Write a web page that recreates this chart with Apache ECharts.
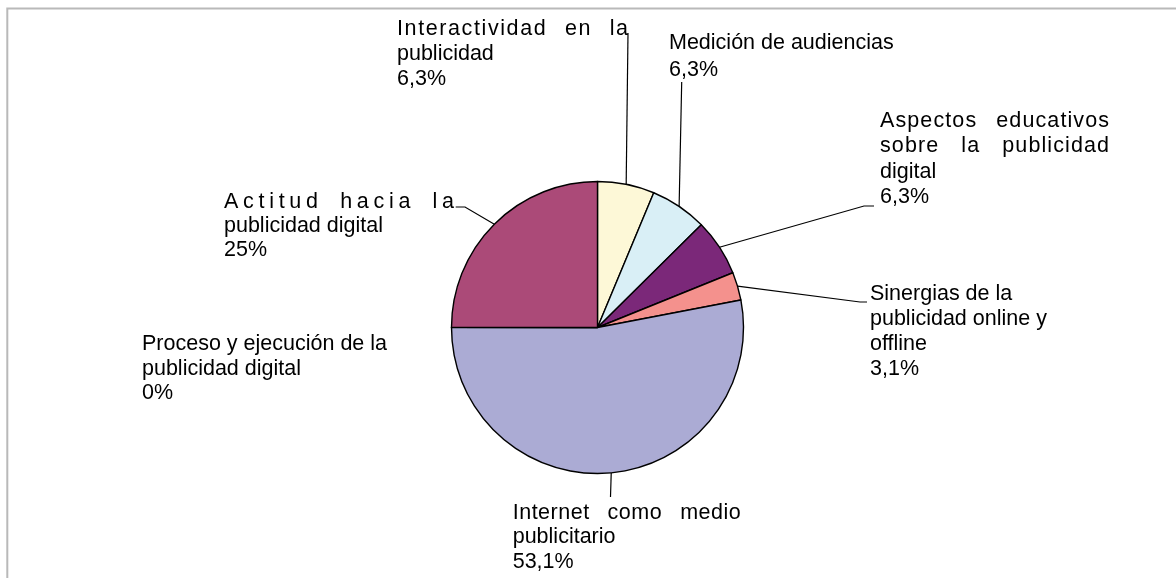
<!DOCTYPE html>
<html>
<head>
<meta charset="utf-8">
<script src="https://cdn.jsdelivr.net/npm/echarts@6/dist/echarts.min.js"></script>
<style>
  html, body { margin: 0; padding: 0; background: #ffffff; }
  #chart { width: 1176px; height: 578px; }
</style>
</head>
<body>
<div id="chart"></div>
<script>
// Topics of the reviewed studies and their share (%)
const categories = [
  'Interactividad en la publicidad',
  'Medición de audiencias',
  'Aspectos educativos sobre la publicidad digital',
  'Sinergias de la publicidad online y offline',
  'Internet como medio publicitario',
  'Proceso y ejecución de la publicidad digital',
  'Actitud hacia la publicidad digital'
];
const values = [6.3, 6.3, 6.3, 3.1, 53.1, 0, 25];
const sliceColors = ['#FDF8D7', '#D9EFF6', '#7B2879', '#F4918D', '#ABABD4', '#B0B0B0', '#AB4A78'];

// Words per line when each category name is wrapped
const wrapWords = [[3, 1], [3], [2, 3, 1], [3, 3, 1], [3, 1], [5, 2], [3, 2]];

const FONT_SIZE = 21.5;
const FONT_FAMILY = '"Liberation Sans", Arial, sans-serif';

// Label boxes: left edge, cap top of first line, line height,
// leader line bend points, justified lines (letter spacing + target width)
const placement = [
  { x: 397,   top: 20.7,  lh: 25,   leader: [[628, 33]],               justify: { lines: [0],    width: 231, ls: 1.6 } },
  { x: 669,   top: 35,    lh: 27,   leader: [[681.7, 82]] },
  { x: 880,   top: 113.3, lh: 25.3, leader: [[864, 206], [874, 206]],  justify: { lines: [0, 1], width: 229, ls: 1.1 } },
  { x: 870,   top: 286,   lh: 25,   leader: [[860, 302], [867, 302]] },
  { x: 512.7, top: 505,   lh: 24.6, leader: [[610.5, 497]],            justify: { lines: [0],    width: 228, ls: 0.5 } },
  { x: 142,   top: 336.5, lh: 24.5, leader: null },
  { x: 224,   top: 194,   lh: 24,   leader: [[465, 207], [455.7, 207]], justify: { lines: [0],    width: 230, ls: 4.7 } }
];

const measureCtx = document.createElement('canvas').getContext('2d');
measureCtx.font = FONT_SIZE + 'px ' + FONT_FAMILY;

const rich = {};
let styleCount = 0;
function padStyle(px) {
  const name = 'j' + (styleCount++);
  rich[name] = { fontSize: FONT_SIZE, fontFamily: FONT_FAMILY, color: '#000', padding: [0, Math.max(0, px), 0, 0] };
  return name;
}

// Spread one line of text across a given width (extra letter spacing, rest between words)
function justifyLine(line, width, ls) {
  const words = line.split(' ');
  const charW = c => measureCtx.measureText(c).width;
  const wordW = words.map(w => [...w].reduce((s, c) => s + charW(c), 0) + ls * ([...w].length - 1));
  const gap = words.length > 1 ? (width - wordW.reduce((a, b) => a + b, 0)) / (words.length - 1) : 0;
  const lsName = padStyle(ls);
  const gapName = padStyle(gap);
  const endName = padStyle(0);
  let out = '';
  words.forEach((w, wi) => {
    const chars = [...w];
    chars.forEach((c, ci) => {
      let name;
      if (ci < chars.length - 1) name = lsName;
      else if (wi < words.length - 1) name = gapName;
      else name = endName;
      out += '{' + name + '|' + c + '}';
    });
  });
  return out;
}

function percentText(v) {
  return String(v).replace('.', ',') + '%';
}

const labelTexts = categories.map((name, i) => {
  const words = name.split(' ');
  const lines = [];
  let k = 0;
  wrapWords[i].forEach(n => { lines.push(words.slice(k, k + n).join(' ')); k += n; });
  const p = placement[i];
  const out = lines.map((line, li) =>
    (p.justify && p.justify.lines.indexOf(li) >= 0) ? justifyLine(line, p.justify.width, p.justify.ls) : line
  );
  out.push(percentText(values[i]));
  return out.join('\n');
});

const data = categories.map((name, i) => ({
  name: name,
  value: values[i],
  itemStyle: { color: sliceColors[i] },
  label: { lineHeight: placement[i].lh },
  labelLine: { show: values[i] > 0 }
}));

const chart = echarts.init(document.getElementById('chart'), null, { renderer: 'canvas' });
chart.setOption({
  animation: false,
  backgroundColor: '#ffffff',
  graphic: [{
    type: 'polyline',
    silent: true,
    shape: { points: [[7.3, 578], [7.3, 8.5], [1176, 8.5]] },
    style: { stroke: '#b9b9b9', lineWidth: 2, fill: null }
  }],
  series: [{
    type: 'pie',
    center: [597.5, 327.5],
    radius: 146,
    startAngle: 90,
    clockwise: true,
    avoidLabelOverlap: false,
    itemStyle: { borderColor: '#000', borderWidth: 1.4 },
    emphasis: { disabled: true },
    label: {
      show: true,
      position: 'outside',
      color: '#000',
      fontSize: FONT_SIZE,
      fontFamily: FONT_FAMILY,
      formatter: p => labelTexts[p.dataIndex],
      rich: rich
    },
    labelLine: {
      show: true,
      length: 10,
      length2: 10,
      smooth: false,
      lineStyle: { color: '#000', width: 1.2 }
    },
    labelLayout: function (params) {
      const p = placement[params.dataIndex];
      const res = {
        x: p.x,
        y: p.top - (p.lh / 2 - 0.37 * FONT_SIZE),
        align: 'left',
        verticalAlign: 'top'
      };
      if (p.leader && params.labelLinePoints && params.labelLinePoints.length) {
        res.labelLinePoints = [params.labelLinePoints[0]].concat(p.leader);
      }
      return res;
    },
    data: data
  }]
});
</script>
</body>
</html>
